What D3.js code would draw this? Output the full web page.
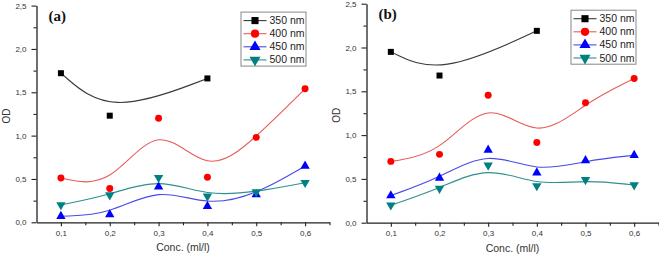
<!DOCTYPE html>
<html>
<head>
<meta charset="utf-8">
<script src="https://cdn.jsdelivr.net/npm/d3@7"></script>
<style>
  html, body { margin: 0; padding: 0; background: #fff; }
  svg { display: block; font-family: "Liberation Sans", Arial, sans-serif; }
</style>
</head>
<body>
<svg id="chart" width="659" height="256"></svg>
<script>
// OD vs concentration, two panels (a) and (b)

const conc = [0.1, 0.2, 0.3, 0.4, 0.5, 0.6];
const conc350 = [0.1, 0.2, 0.4];

const a350 = [1.72, 1.23, 1.66];
const a400 = [0.51, 0.39, 1.20, 0.52, 0.98, 1.54];
const a450 = [0.07, 0.09, 0.41, 0.185, 0.32, 0.65];
const a500 = [0.20, 0.315, 0.515, 0.30, 0.35, 0.457];

const b350 = [1.95, 1.68, 2.19];
const b400 = [0.70, 0.78, 1.456, 0.915, 1.37, 1.645];
const b450 = [0.31, 0.51, 0.83, 0.57, 0.71, 0.77];
const b500 = [0.20, 0.39, 0.655, 0.42, 0.49, 0.43];

const seriesNames = ["350 nm", "400 nm", "450 nm", "500 nm"];
const xTicks = [0.1, 0.2, 0.3, 0.4, 0.5, 0.6];
const yTicks = [0, 0.5, 1.0, 1.5, 2.0, 2.5];

const markerFill = ["#000000", "#ff0000", "#0000ff", "#008080"];
const lineColor  = ["#3a3a3a", "#e85a5a", "#4a4ae8", "#2f9090"];
const markerType = [d3.symbolSquare, d3.symbolCircle, d3.symbolTriangle, d3.symbolTriangle];
const markerRot  = [0, 0, 0, 180];
const markerSize = [36, 38, 38, 38];

const comma = d3.formatLocale({ decimal: ",", thousands: ".", grouping: [3], currency: ["", ""] });
const fmt = comma.format(".1f");

const svg = d3.select("#chart");

function drawPanel(opts) {
  const { left, right, y0, y25, label, data, legendX } = opts;

  const xScale = d3.scaleLinear().domain([0.05, 0.65]).range([left, right]);
  const yScale = d3.scaleLinear().domain([0, 2.5]).range([y0, y25]);

  const g = svg.append("g");

  // axes: major ticks with labels, then minor ticks
  g.append("g")
    .attr("transform", `translate(0, ${y0})`)
    .call(d3.axisBottom(xScale).tickValues(xTicks).tickFormat(fmt).tickSize(4).tickPadding(4).tickSizeOuter(0));
  g.append("g")
    .attr("transform", `translate(0, ${y0})`)
    .call(d3.axisBottom(xScale).tickValues([0.15, 0.25, 0.35, 0.45, 0.55, 0.65]).tickFormat("").tickSize(3).tickSizeOuter(0))
    .call(s => s.select(".domain").remove());

  g.append("g")
    .attr("transform", `translate(${left}, 0)`)
    .call(d3.axisLeft(yScale).tickValues(yTicks).tickFormat(fmt).tickSize(5).tickPadding(5).tickSizeOuter(0));
  g.append("g")
    .attr("transform", `translate(${left}, 0)`)
    .call(d3.axisLeft(yScale).tickValues([0.25, 0.75, 1.25, 1.75, 2.25]).tickFormat("").tickSize(3).tickSizeOuter(0))
    .call(s => s.select(".domain").remove());

  g.selectAll(".domain").attr("stroke", "#222").attr("stroke-width", 1.3);
  g.selectAll(".tick line").attr("stroke", "#222").attr("stroke-width", 1.1);
  g.selectAll(".tick text").attr("font-size", 8).attr("fill", "#333")
    .attr("font-family", "'Liberation Sans', Arial, sans-serif");

  // axis titles
  g.append("text")
    .attr("x", (left + right) / 2)
    .attr("y", y0 + 29)
    .attr("text-anchor", "middle")
    .attr("font-size", 10.5)
    .attr("fill", "#333")
    .text("Conc. (ml/l)");

  g.append("text")
    .attr("transform", `translate(${left - 27}, ${(y0 + y25) / 2 + 2}) rotate(-90)`)
    .attr("text-anchor", "middle")
    .attr("font-size", 10)
    .attr("fill", "#333")
    .text("OD");

  // panel label
  g.append("text")
    .attr("x", left + 12)
    .attr("y", y25 + 15)
    .attr("font-family", "'Liberation Serif', 'Times New Roman', serif")
    .attr("font-weight", "bold")
    .attr("font-size", 15)
    .attr("fill", "#111")
    .text(label);

  // B-spline curves
  const line = d3.line()
    .x(d => xScale(d[0]))
    .y(d => yScale(d[1]))
    .curve(d3.curveBasis);

  data.forEach((s, i) => {
    const pts = s.x.map((x, j) => [x, s.y[j]]);
    g.append("path")
      .datum(pts)
      .attr("d", line)
      .attr("fill", "none")
      .attr("stroke", lineColor[i])
      .attr("stroke-width", 1.1);
  });

  data.forEach((s, i) => {
    const pts = s.x.map((x, j) => [x, s.y[j]]);
    g.selectAll(null)
      .data(pts).join("path")
      .attr("transform", d => `translate(${xScale(d[0])}, ${yScale(d[1])}) rotate(${markerRot[i]})`)
      .attr("d", d3.symbol().type(markerType[i]).size(markerSize[i]))
      .attr("fill", markerFill[i]);
  });

  // legend
  const lg = g.append("g").attr("transform", `translate(${legendX}, ${y25 + 6})`);
  lg.append("rect")
    .attr("x", 0.5).attr("y", 0.5)
    .attr("width", 65).attr("height", 54)
    .attr("fill", "#fff")
    .attr("stroke", "#888")
    .attr("stroke-width", 1);

  seriesNames.forEach((name, i) => {
    const cy = 9 + i * 13.1;
    lg.append("line")
      .attr("x1", 3).attr("x2", 26)
      .attr("y1", cy).attr("y2", cy)
      .attr("stroke", lineColor[i]).attr("stroke-width", 1.1);
    lg.append("path")
      .attr("transform", `translate(14.5, ${cy}) rotate(${markerRot[i]})`)
      .attr("d", d3.symbol().type(markerType[i]).size(markerSize[i] * 1.4))
      .attr("fill", markerFill[i]);
    lg.append("text")
      .attr("x", 29)
      .attr("y", cy + 3.6)
      .attr("font-size", 10.5)
      .attr("fill", "#222")
      .text(name);
  });
}

drawPanel({
  left: 36.5, right: 329.5, y0: 222.3, y25: 5.6, label: "(a)", legendX: 240.5,
  data: [
    { x: conc350, y: a350 },
    { x: conc, y: a400 },
    { x: conc, y: a450 },
    { x: conc, y: a500 }
  ]
});

drawPanel({
  left: 366.5, right: 658.5, y0: 222.7, y25: 3.7, label: "(b)", legendX: 570.5,
  data: [
    { x: conc350, y: b350 },
    { x: conc, y: b400 },
    { x: conc, y: b450 },
    { x: conc, y: b500 }
  ]
});
</script>
</body>
</html>
